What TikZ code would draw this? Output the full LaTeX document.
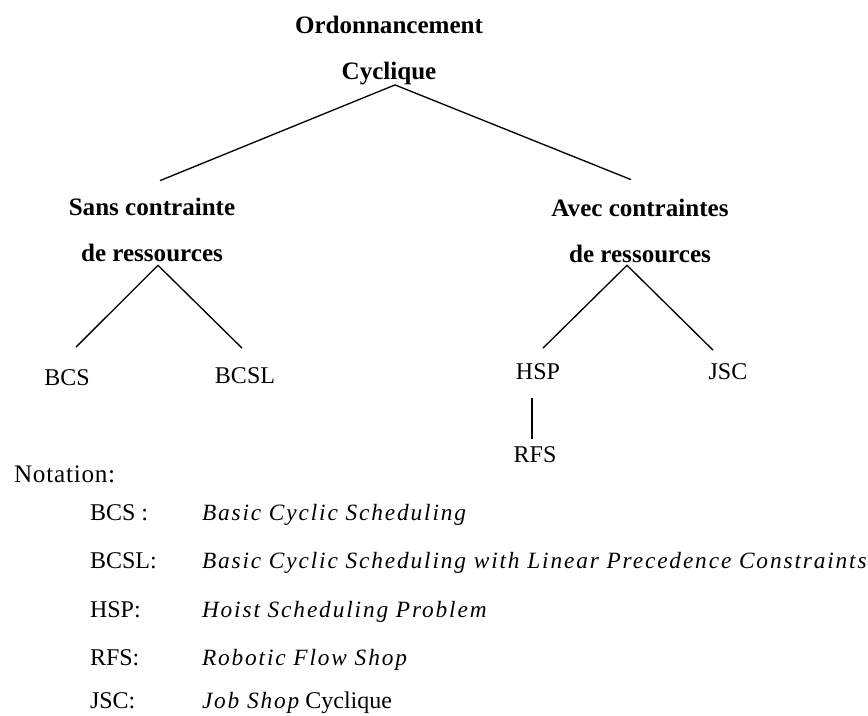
\documentclass[tikz,border=0pt]{standalone}
\usepackage{fontspec}
\setmainfont{Liberation Serif}
\newfontfamily\spacedfont[LetterSpace=8]{Liberation Serif}
\newfontfamily\headfont[LetterSpace=3]{Liberation Serif}
\begin{document}
\begin{tikzpicture}[x=0.75pt,y=-0.75pt,
  every node/.style={inner sep=0pt,outer sep=0pt},
  branch/.style={line width=1pt},
  catnode/.style={font=\fontsize{18.8}{34.5}\selectfont\bfseries,align=center,anchor=base},
  leaf/.style={font=\fontsize{18}{22}\selectfont,anchor=base},
  legkey/.style={font=\fontsize{18}{22}\selectfont,anchor=base west},
  legtext/.style={font=\fontsize{17.5}{22}\selectfont\spacedfont\itshape,anchor=base west}]
\useasboundingbox (0,0) rectangle (868,715);

% classification tree (multi-line nodes sit on the baseline of their last line)
\node[catnode] (root) at (389,79)  {Ordonnancement\\Cyclique};
\node[catnode] (sans) at (152,261) {Sans contrainte\\de ressources};
\node[catnode] (avec) at (640,262) {Avec contraintes\\de ressources};
\node[leaf] (bcs)  at (67,385)  {BCS};
\node[leaf] (bcsl) at (245,383) {BCSL};
\node[leaf] (hsp)  at (538,379) {HSP};
\node[leaf] (jsc)  at (728,379) {JSC};
\node[leaf] (rfs)  at (535,462) {RFS};

\draw[branch] ([shift={(8,-17)}]sans.north) -- ([shift={(6,0.5)}]root.south)
              -- ([shift={(-9,-19)}]avec.north);
\draw[branch] ([shift={(9,-22)}]bcs.north) -- ([shift={(6,4)}]sans.south)
              -- ([shift={(-3,-19)}]bcsl.north);
\draw[branch] ([shift={(5,-15)}]hsp.north) -- ([shift={(-13,3)}]avec.south)
              -- ([shift={(-15,-13)}]jsc.north);
\draw[branch] ([shift={(-6,19)}]hsp.south) -- ([shift={(-3,-7)}]rfs.north);

% notation
\node[legkey,font=\fontsize{18.9}{22}\selectfont\headfont] (nota) at (14,482) {Notation:};
\node[legkey] (k1) at (90,520) {BCS :};
\node[legkey] (k2) at (90,568) {BCSL:};
\node[legkey] (k3) at (90,617) {HSP:};
\node[legkey] (k4) at (90,665) {RFS:};
\node[legkey] (k5) at (90,708) {JSC:};
\node[legtext] (t1) at (202,520) {Basic Cyclic Scheduling};
\node[legtext] (t2) at (202,568) {Basic Cyclic Scheduling with Linear Precedence Constraints};
\node[legtext] (t3) at (202,617) {Hoist Scheduling Problem};
\node[legtext] (t4) at (202,665) {Robotic Flow Shop};
\node[legkey] (t5) at (202,708) {{\fontsize{17.5}{22}\selectfont\spacedfont\itshape Job Shop} Cyclique};
\end{tikzpicture}
\end{document}
